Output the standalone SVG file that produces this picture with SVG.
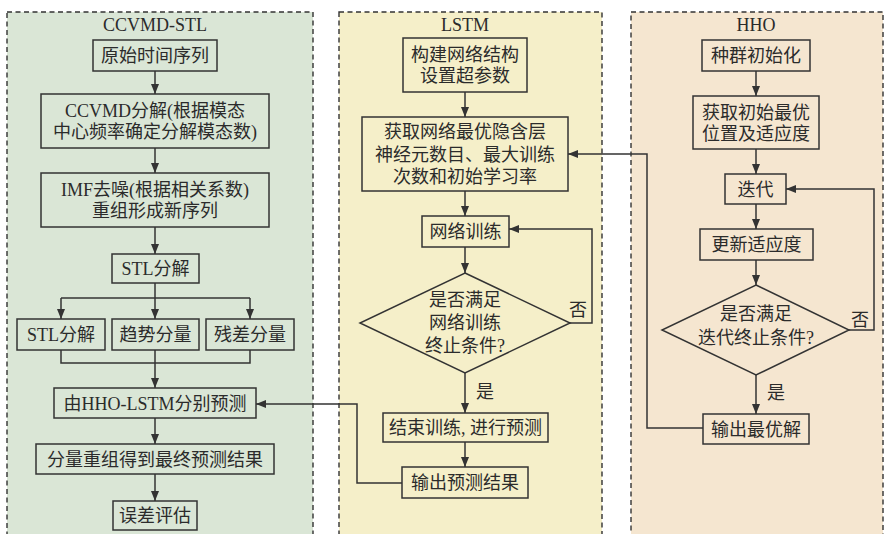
<svg xmlns="http://www.w3.org/2000/svg" width="888" height="534" viewBox="0 0 888 534">
<defs>
<style>
.panel{stroke:#333;stroke-width:1.4;stroke-dasharray:5,3.5}
.box{fill:none;stroke:#333;stroke-width:1.5}
.t{font-family:"Liberation Serif","Noto Sans CJK SC",serif;font-size:18px;fill:#2b2b2b;text-anchor:middle}
.title{font-family:"Liberation Serif","Noto Sans CJK SC",serif;font-size:18px;fill:#2b2b2b;text-anchor:middle}
.c{fill:none;stroke:#333;stroke-width:1.5}
.a{fill:none;stroke:#333;stroke-width:1.5;marker-end:url(#arr)}
</style>
<marker id="arr" viewBox="0 0 10 8" refX="10" refY="4" markerWidth="10" markerHeight="8" markerUnits="userSpaceOnUse" orient="auto">
<path d="M0,0 L10,4 L0,8 Z" fill="#333"/>
</marker>
</defs>
<rect width="888" height="534" fill="#fff"/>
<g id="panels">
<rect class="panel" x="7" y="12" width="306" height="530" fill="#dae6d6"/>
<rect class="panel" x="339" y="12" width="263" height="530" fill="#f5efc9"/>
<rect class="panel" x="631" y="12" width="252" height="530" fill="#f5e6d0"/>
<text class="title" x="155" y="31">CCVMD-STL</text>
<text class="title" x="465" y="31">LSTM</text>
<text class="title" x="756" y="31">HHO</text>
</g>
<g id="connectors">
<path class="a" d="M155,71 V94"/>
<path class="a" d="M155,148 V173"/>
<path class="a" d="M155,227 V254"/>
<path class="a" d="M155,283 V319"/>
<path class="c" d="M61,298 H250"/>
<path class="a" d="M61,298 V319"/>
<path class="a" d="M250,298 V319"/>
<path class="c" d="M61,350 V363 H250 V350"/>
<path class="c" d="M155,350 V363"/>
<path class="a" d="M155,363 V388"/>
<path class="a" d="M155,418 V444"/>
<path class="a" d="M155,474 V501"/>
<path class="a" d="M465,92 V117"/>
<path class="a" d="M465,191 V216"/>
<path class="a" d="M465,247 V273"/>
<path class="a" d="M570,323 H592 V229 H509"/>
<path class="a" d="M465,373 V413"/>
<path class="a" d="M465,442 V467"/>
<path class="a" d="M402,483 H357 V404 H256"/>
<path class="a" d="M756,71 V96"/>
<path class="a" d="M756,149 V174"/>
<path class="a" d="M756,204 V229"/>
<path class="a" d="M756,260 V285"/>
<path class="a" d="M849,330 H874 V189 H786"/>
<path class="a" d="M756,375 V414"/>
<path class="a" d="M703,428 H647 V154 H568"/>
<text class="t" x="578" y="316">否</text>
<text class="t" x="485" y="398">是</text>
<text class="t" x="860" y="326">否</text>
<text class="t" x="776" y="399">是</text>
</g>
<g id="n1"><rect class="box" x="93" y="40" width="124" height="31"/><text class="t" x="155" y="62">原始时间序列</text></g>
<g id="n2"><rect class="box" x="41" y="94" width="228" height="54"/><text class="t" x="155" y="117">CCVMD分解(根据模态</text><text class="t" x="155" y="138">中心频率确定分解模态数)</text></g>
<g id="n3"><rect class="box" x="41" y="173" width="228" height="54"/><text class="t" x="155" y="196">IMF去噪(根据相关系数)</text><text class="t" x="155" y="217">重组形成新序列</text></g>
<g id="n4"><rect class="box" x="112" y="254" width="87" height="29"/><text class="t" x="155.5" y="275">STL分解</text></g>
<g id="n5"><rect class="box" x="17" y="319" width="88" height="31"/><text class="t" x="61" y="341">STL分解</text></g>
<g id="n6"><rect class="box" x="112" y="319" width="87" height="31"/><text class="t" x="155.5" y="341">趋势分量</text></g>
<g id="n7"><rect class="box" x="206" y="319" width="88" height="31"/><text class="t" x="250" y="341">残差分量</text></g>
<g id="n8"><rect class="box" x="54" y="388" width="202" height="30"/><text class="t" x="155" y="409.5">由HHO-LSTM分别预测</text></g>
<g id="n9"><rect class="box" x="36" y="444" width="238" height="30"/><text class="t" x="155" y="465.5">分量重组得到最终预测结果</text></g>
<g id="n10"><rect class="box" x="113" y="501" width="84" height="29"/><text class="t" x="155" y="522">误差评估</text></g>
<g id="l1"><rect class="box" x="403" y="38" width="124" height="54"/><text class="t" x="465" y="61">构建网络结构</text><text class="t" x="465" y="82">设置超参数</text></g>
<g id="l2"><rect class="box" x="362" y="117" width="206" height="74"/><text class="t" x="465" y="138">获取网络最优隐含层</text><text class="t" x="465" y="160.5">神经元数目、最大训练</text><text class="t" x="465" y="183">次数和初始学习率</text></g>
<g id="l3"><rect class="box" x="422" y="216" width="87" height="31"/><text class="t" x="465.5" y="238">网络训练</text></g>
<g id="l4"><path class="box" d="M465,273 L570,323 L465,373 L360,323 Z"/><text class="t" x="465" y="306">是否满足</text><text class="t" x="465" y="329">网络训练</text><text class="t" x="465" y="352">终止条件?</text></g>
<g id="l5"><rect class="box" x="383" y="413" width="165" height="29"/><text class="t" x="465.5" y="434">结束训练, 进行预测</text></g>
<g id="l6"><rect class="box" x="402" y="467" width="126" height="31"/><text class="t" x="465" y="489">输出预测结果</text></g>
<g id="h1"><rect class="box" x="702" y="40" width="108" height="31"/><text class="t" x="756" y="62">种群初始化</text></g>
<g id="h2"><rect class="box" x="693" y="96" width="126" height="53"/><text class="t" x="756" y="119">获取初始最优</text><text class="t" x="756" y="140">位置及适应度</text></g>
<g id="h3"><rect class="box" x="725" y="174" width="61" height="30"/><text class="t" x="755.5" y="195.5">迭代</text></g>
<g id="h4"><rect class="box" x="700" y="229" width="113" height="31"/><text class="t" x="756.5" y="251">更新适应度</text></g>
<g id="h5"><path class="box" d="M756,285 L849,330 L756,375 L662,330 Z"/><text class="t" x="756" y="319.5">是否满足</text><text class="t" x="756" y="343.5">迭代终止条件?</text></g>
<g id="h6"><rect class="box" x="703" y="414" width="106" height="30"/><text class="t" x="756" y="435.5">输出最优解</text></g>
</svg>
